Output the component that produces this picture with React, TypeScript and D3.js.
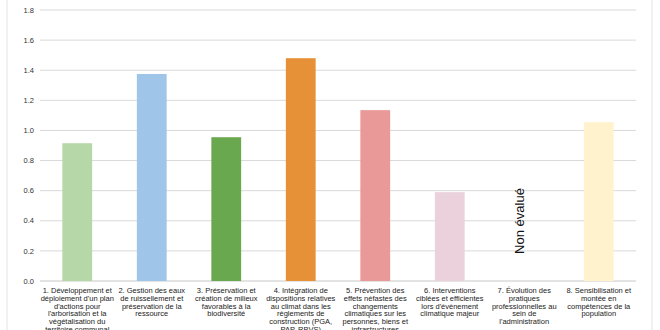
import React from "react";
import * as d3 from "d3";

const categories = [
  ["1. Développement et", "déploiement d'un plan", "d'actions pour", "l'arborisation et la", "végétalisation du", "territoire communal"],
  ["2. Gestion des eaux", "de ruissellement et", "préservation de la", "ressource"],
  ["3. Préservation et", "création de milieux", "favorables à la", "biodiversité"],
  ["4. Intégration de", "dispositions relatives", "au climat dans les", "règlements de", "construction (PGA,", "PAP, RBVS)"],
  ["5. Prévention des", "effets néfastes des", "changements", "climatiques sur les", "personnes, biens et", "infrastructures"],
  ["6. Interventions", "ciblées et efficientes", "lors d'évènement", "climatique majeur"],
  ["7. Évolution des", "pratiques", "professionnelles au", "sein de", "l'administration"],
  ["8. Sensibilisation et", "montée en", "compétences de la", "population"],
];
const values: (number | null)[] = [0.915, 1.375, 0.955, 1.48, 1.135, 0.59, null, 1.055];
const colors = ["#b6d7a8", "#9fc5e8", "#6aa84f", "#e69138", "#ea9999", "#ead1dc", "#ffffff", "#fff2cc"];
const yTicks = [0, 0.2, 0.4, 0.6, 0.8, 1.0, 1.2, 1.4, 1.6, 1.8];
const notEvaluated = "Non évalué";

export default function App() {
  const W = 660, H = 330;
  const x = d3.scaleBand<number>().domain(d3.range(8)).range([40, 636]).paddingInner(0.6).paddingOuter(0.3);
  const y = d3.scaleLinear().domain([0, 1.8]).range([281, 10]);
  const step = (636 - 40) / 8;
  return (
    <svg width={W} height={H} style={{ position: "fixed", left: 0, top: 0, background: "#fff" }}
      fontFamily="Liberation Sans, Arial, sans-serif">
      <line x1={7} x2={7} y1={0} y2={H} stroke="#e3e3e3" />
      <line x1={652} x2={652} y1={0} y2={H} stroke="#e3e3e3" />
      {yTicks.map((t) => (
        <g key={t}>
          <line x1={40} x2={636} y1={y(t)} y2={y(t)} stroke={t === 0 ? "#c8c8c8" : "#d9d9d9"} strokeWidth={1} />
          <text x={34} y={y(t)} dy="0.35em" textAnchor="end" fontSize={7.5} fill="#333">{t.toFixed(1)}</text>
        </g>
      ))}
      {values.map((v, i) =>
        v == null ? null : (
          <rect key={i} x={x(i)} y={y(v)} width={x.bandwidth()} height={y(0) - y(v)} fill={colors[i]} />
        )
      )}
      {values.map((v, i) =>
        v == null ? (
          <text key={"ne" + i} transform={`translate(${40 + step * (i + 0.5)},${221}) rotate(-90)`}
            textAnchor="middle" fontSize={13} fill="#111">{notEvaluated}</text>
        ) : null
      )}
      {categories.map((lines, i) => (
        <text key={"c" + i} textAnchor="middle" fontSize={7.5} fill="#222">
          {lines.map((l, j) => (
            <tspan key={j} x={40 + step * (i + 0.5)} y={293 + j * 7.75}>{l}</tspan>
          ))}
        </text>
      ))}
    </svg>
  );
}
